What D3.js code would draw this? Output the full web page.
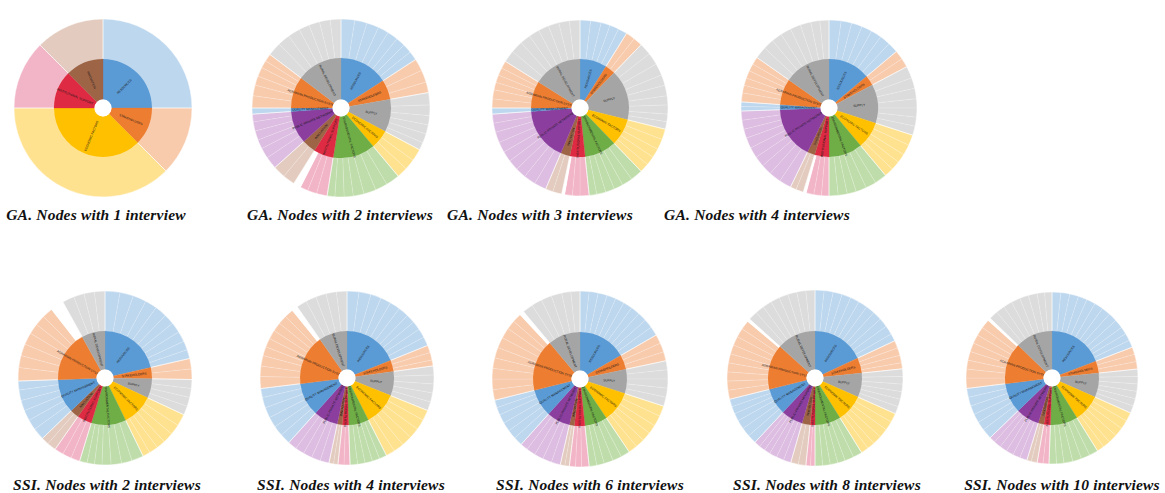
<!DOCTYPE html>
<html><head><meta charset="utf-8">
<script src="https://cdn.jsdelivr.net/npm/d3@7"></script>
<style>html,body{margin:0;padding:0;background:#fff;}</style>
</head><body>
<svg id="c" width="1165" height="493"></svg>
<script>
// ---- categories (inner ring), clockwise from 12 o'clock ----
const categories = ["RESOURCES","STAKEHOLDERS","SUPPLY","ECONOMIC FACTORS","ENVIRONMENTAL FACTORS",
  "INSTITUTIONAL SUPPORT","INNOVATION","PUBLIC-PRIVATE NETWORKS","QUALITY MANAGEMENT",
  "AGRARIAN PRODUCTION SYSTEM","RURAL DEVELOPMENT"];
const categoryHue = ["blue","orange","grey","yellow","green","red","brown","purple","blue","orange","grey"];
const innerColor = {blue:"#5B9BD5",orange:"#ED7D31",grey:"#A5A5A5",yellow:"#FFC000",green:"#6FAD47",
  red:"#DE2A42",brown:"#9E6446",purple:"#8C3E9F"};
const outerColor = {blue:"#BDD7EE",orange:"#F8CBAD",grey:"#DCDCDC",yellow:"#FFE28F",green:"#BFDDAA",
  red:"#F2B5C7",brown:"#E3CCBF",purple:"#DDBDE1"};

// ---- leaves (outer ring) per category, and blank (white) part at end of category ----
const GA1_leaves = [[90],[45],[],[135],[],[45],[45],[],[],[],[]];
const GA1_blank  = [0,0,0,0,0,0,0,0,0,0,0];

const GA2_leaves = [[9,8,8,7,7,6,6,6],[8,8,7],[8,7,6,6,6,5],[8,7,7],[9,8,8,7,6,6,5],[7,6,5],[8,8],
  [8,7,6,6,6,5],[4],[8,7,6,6,5,5],[9,8,8,7,7,7,7]];
const GA2_blank  = [0,0,0,0,0,5,0,0,0,0,0];

const GA3_leaves = [[7,7,6,6,6],[6,6],[8,8,8,7,7,6,6,5,5],[7,7,6,6,6],[8,7,6,6,6,5],[6,5,5],[6,5],
  [8,8,7,7,7,7,7,6,6],[4],[6,6,5,5,5,5],[8,8,7,7,7,7,7,7]];
const GA3_blank  = [0,0,0,0,0,2,0,0,0,0,0];

const GA4_leaves = [[8,7,7,7,7,7,7],[6,6],[8,7,7,6,6,6,6],[7,7,6,6,6],[8,7,7,6,6,6],[5,5,5],[5,4],
  [8,8,7,7,7,7,6,6,6],[3,3],[6,5,5,5,5,5],[8,7,7,7,7,7,6,6]];
const GA4_blank  = [0,0,0,0,0,2,0,0,0,0,0];

const SSI2_leaves = [[10,9,9,8,8,7,7,7,6,6],[7,7],[6,6,6,6],[8,7,7,6,6,5],[8,7,7,6,5,5,5],[6,6,6],[6,5],
  [],[8,7,7,7,7,6],[9,8,8,8,7,7,7],[8,7,7,7]];
const SSI2_blank  = [0,0,0,0,0,0,0,0,0,9,0];

const SSI4_leaves = [[8,8,7,7,7,7,6,6,6,6],[5,5,4],[6,6,6,6,6],[7,7,7,7,7,6],[5,5,5,5,5],[4,4],[3,3],
  [6,6,6,6,6],[7,7,7,7,7,6],[8,7,7,6,6,6,6,6,6],[7,7,7,7,7]];
const SSI4_blank  = [0,0,0,0,0,0,0,0,0,4,0];

const SSI6_leaves = [[6,6,6,6,6,6,6,6,6,6],[6,6,6],[6,6,6,6,6],[7,7,6,6,6,6],[6,6,6,5,5],[5,4,4],[3,3],
  [6,6,6,6,5],[6,6,6,6,5,5],[7,7,7,7,7,7,7,6,6],[7,7,7,7,6,6]];
const SSI6_blank  = [0,0,0,0,0,0,0,0,0,3,0];

const SSI8_leaves = [[6,6,6,6,6,6,6,6,6,6,5],[5,5,5,4],[5,5,5,5,5,5],[6,6,6,6,5,5],[6,6,5,5,5,5],[3,3],[5,5],
  [5,5,5,4,4,4],[6,6,6,5,5,5],[6,6,6,6,6,6,6,6,6],[6,6,6,6,6,6,6,6]];
const SSI8_blank  = [0,0,0,0,0,0,0,0,0,2,0];

const SSI10_leaves = [[6,6,6,6,6,6,6,6,6,5,5,5],[5,5,5],[5,5,5,5,5,5],[6,6,6,6,5,5],[6,6,6,6,5,5],[4,4],[4,3],
  [5,5,5,5,5,4],[7,6,6,6,6,6],[7,6,6,6,6,6,6,6],[6,6,6,6,6,6,5,5]];
const SSI10_blank  = [0,0,0,0,0,0,0,0,0,2,0];

const titles = ["GA. Nodes with 1 interview","GA. Nodes with 2 interviews","GA. Nodes with 3 interviews",
  "GA. Nodes with 4 interviews","SSI. Nodes with 2 interviews","SSI. Nodes with 4 interviews",
  "SSI. Nodes with 6 interviews","SSI. Nodes with 8 interviews","SSI. Nodes with 10 interviews"];

// ---- layout ----
const charts = [
  {leaves:GA1_leaves, blank:GA1_blank, cx:103, cy:108, r:89, mid:49, tx:96, ty:220},
  {leaves:GA2_leaves, blank:GA2_blank, cx:341, cy:108, r:89, mid:50, tx:340, ty:220},
  {leaves:GA3_leaves, blank:GA3_blank, cx:580, cy:108, r:88, mid:49, tx:540, ty:220},
  {leaves:GA4_leaves, blank:GA4_blank, cx:829, cy:108, r:88, mid:49, tx:757, ty:220},
  {leaves:SSI2_leaves, blank:SSI2_blank, cx:105, cy:378, r:87, mid:47, tx:107, ty:490},
  {leaves:SSI4_leaves, blank:SSI4_blank, cx:347, cy:378, r:87, mid:47, tx:351, ty:490},
  {leaves:SSI6_leaves, blank:SSI6_blank, cx:580, cy:379, r:88, mid:47, tx:590, ty:490},
  {leaves:SSI8_leaves, blank:SSI8_blank, cx:815, cy:378, r:88, mid:47, tx:827, ty:490},
  {leaves:SSI10_leaves, blank:SSI10_blank, cx:1052, cy:378, r:86, mid:47, tx:1062, ty:490}
];
const hole = 8.5;

const svg = d3.select("#c");
svg.append("rect").attr("width",1165).attr("height",493).attr("fill","#fff");

charts.forEach((ch, k) => {
  const data = {name:"root", children: categories.map((name,i)=>({
      name, ci:i,
      children: ch.leaves[i].map(v=>({value:v})).concat(ch.blank[i]>0 ? [{value:ch.blank[i], blank:true}] : [])
    })).filter(c=>c.children.length>0)};
  const root = d3.hierarchy(data).sum(d=>d.value||0);
  d3.partition().size([2*Math.PI, 3])(root);
  const rs = d3.scaleLinear().domain([1,2,3]).range([hole, ch.mid, ch.r]);
  const arc = d3.arc().startAngle(d=>d.x0).endAngle(d=>d.x1)
    .innerRadius(d=>rs(d.y0)).outerRadius(d=>rs(d.y1));
  const g = svg.append("g").attr("transform",`translate(${ch.cx},${ch.cy})`);
  const nodes = root.descendants().filter(d=>d.depth>0);
  // outer ring leaves
  g.selectAll("path.o").data(nodes.filter(d=>d.depth===2)).join("path").attr("class","o")
    .attr("d",arc)
    .attr("fill",d=> d.data.blank ? "#fff" : outerColor[categoryHue[d.parent.data.ci]])
    .attr("stroke","#fff").attr("stroke-opacity",0.3).attr("stroke-width",0.5);
  // category borders on the outer ring (slightly stronger)
  g.selectAll("path.ob").data(nodes.filter(d=>d.depth===1)).join("path").attr("class","ob")
    .attr("d", d=>arc({x0:d.x0,x1:d.x1,y0:2,y1:3}))
    .attr("fill","none").attr("stroke","#fff").attr("stroke-opacity",0.6).attr("stroke-width",0.6);
  // inner ring
  g.selectAll("path.i").data(nodes.filter(d=>d.depth===1)).join("path").attr("class","i")
    .attr("d",arc)
    .attr("fill",d=> innerColor[categoryHue[d.data.ci]])
    .attr("stroke",d=> innerColor[categoryHue[d.data.ci]]).attr("stroke-width",0.3);
  // labels
  const lr = (hole + ch.mid)/2 + 1.5;
  g.selectAll("text.l").data(nodes.filter(d=>d.depth===1)).join("text").attr("class","l")
    .attr("transform", d=>{
      const a = (d.x0+d.x1)/2;
      let rot = a*180/Math.PI - 90;
      if (a > Math.PI) rot += 180;
      return `translate(${Math.sin(a)*lr},${-Math.cos(a)*lr}) rotate(${rot})`;
    })
    .attr("text-anchor","middle").attr("dominant-baseline","central")
    .attr("font-family","'Liberation Sans', Arial, sans-serif").attr("font-size",3.1)
    .attr("fill","#1a1a1a").text(d=>d.data.name);
  // hole
  g.append("circle").attr("r",hole).attr("fill","#fff");
  // title
  svg.append("text").attr("x",ch.tx).attr("y",ch.ty).attr("text-anchor","middle")
    .attr("font-family","'Liberation Serif', 'Times New Roman', serif")
    .attr("font-style","italic").attr("font-weight","bold").attr("font-size",15.5)
    .attr("letter-spacing",0.2)
    .attr("fill","#111").text(titles[k]);
});
</script>
</body></html>
